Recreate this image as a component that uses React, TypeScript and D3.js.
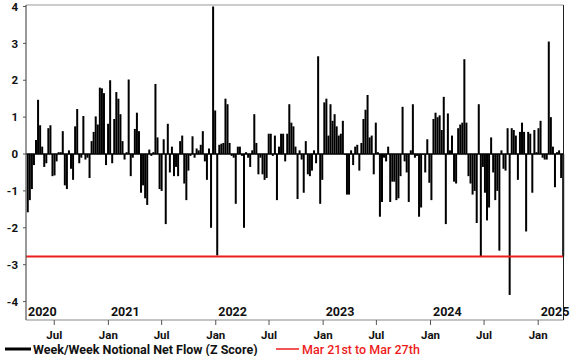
import React from "react";
import * as d3 from "d3";

// Weekly z-scores, week ending Thursday, from Apr 2 2020 to Mar 27 2025
const lastDate = new Date(2025, 2, 27);
const values: number[] = [
  -1.58, -1.25, -0.95, -0.3, 0.38, 1.47, 0.78, 0.2, -0.35, -0.25,
  0.7, 0.78, -0.6, -0.58, -0.2, 0.05, 0.05, 0.62, -0.85, -0.95,
  0.1, -0.4, -0.7, 0.75, 1.22, -0.25, -0.1, 1.03, -0.15, -0.1,
  -0.65, 0.35, 0.6, 1.02, 0.8, 1.8, 1.78, 1.65, -0.3, 0.82,
  2.0, -0.25, 0.95, 1.68, 1.5, 1.08, 0.35, -0.15, 0.05, 2.02,
  -0.6, -0.1, 0.68, 1.12, 0.62, -1.05, -0.85, -1.2, -1.38, 0.12,
  -0.05, 0.05, 1.9, 0.45, -0.95, -1.0, 0.4, -1.9, 0.82, -0.5,
  0.2, -0.6, -0.35, -0.6, 0.35, 0.5, -0.8, -1.25, -0.45, -0.05,
  0.48, -0.1, 0.15, 0.1, 0.25, 0.62, -0.2, -0.7, 0.15, -2.0,
  4.0, 1.18, -2.75, 0.25, 0.28, 0.3, 1.5, 1.35, 0.3, -0.05,
  -0.1, -1.35, 0.2, 0.2, -0.05, -2.0, 0.05, -0.1, -0.35, 0.1,
  1.08, 0.3, -0.55, -0.1, -0.55, -0.7, -0.65, 0.55, 0.55, -0.05,
  0.5, -1.25, 0.2, 0.55, 0.55, -0.2, 0.55, 1.35, 0.85, 0.75,
  0.2, -1.22, 0.1, -0.15, -1.05, 0.35, -0.55, -0.6, -0.45, 0.1,
  -0.25, 2.65, -1.35, -0.7, 1.4, 1.5, 0.5, 1.35, 0.9, 1.08,
  0.75, 0.5, 0.55, 0.9, 0.0, -1.1, -1.1, 0.1, -0.3, 0.2,
  0.25, -0.45, 0.3, 0.95, 1.2, 1.6, 0.45, 0.5, -0.55, 0.85,
  0.05, -1.7, -1.3, -0.1, -0.2, 0.2, -1.3, -0.75, -0.75, -1.25,
  -1.2, -0.6, 1.28, -0.2, -0.5, -1.3, 0.1, 1.35, -0.1, -0.05,
  -1.7, -1.45, 0.0, -0.5, 0.4, -0.78, -1.25, 0.95, 1.12, 1.0,
  1.05, 0.65, 1.55, -1.9, 1.1, 0.1, 0.5, -0.75, -0.8, 0.7,
  0.8, 0.85, 2.57, 0.85, -0.6, -0.8, -1.1, -1.0, -1.87, 1.35,
  -2.78, -0.35, -1.05, -1.8, -1.45, 0.45, -0.5, -1.25, -1.0, -2.62,
  0.1, -0.4, -0.45, 0.7, -3.82, 0.7, 0.65, 0.5, -0.7, 0.6,
  0.85, 0.6, -2.1, 0.6, 0.55, -1.05, 0.65, 0.05, 0.7, 0.9,
  -0.1, -0.15, -0.15, 3.05, 1.0, 0.2, -0.9, 0.05, 0.1, -0.65, -2.78,
];
const currentValue = -2.78;
const yTicks = [4, 3, 2, 1, 0, -1, -2, -3, -4];
const yearLabels = ["2020", "2021", "2022", "2023", "2024", "2025"];
const seriesLabel = "Week/Week Notional Net Flow (Z Score)";
const currentLabel = "Mar 21st to Mar 27th";

const W = 571;
const H = 356;
const left = 26;
const right = 563.5;
const top = 5;
const bottom = 320;

export default function App() {
  const n = values.length;
  const dates = values.map((_, i) => d3.timeDay.offset(lastDate, -7 * (n - 1 - i)));
  const x = d3.scaleTime().domain([new Date(2020, 2, 27), new Date(2025, 2, 28)]).range([left, right]);
  const y = d3.scaleLinear().domain([-4.5, 4.04]).range([bottom, top]);
  const bw = 2.0;
  const monthTicks = d3.timeMonth
    .every(6)!
    .range(new Date(2020, 0, 1), new Date(2025, 2, 28))
    .filter((d) => x(d) >= left && x(d) <= right);
  const font = "Roboto, 'Liberation Sans', Arial, sans-serif";
  return (
    <svg width={W} height={H} style={{ position: "absolute", left: 0, top: 0 }} fontFamily={font}>
      <rect x={0} y={0} width={W} height={H} fill="#fff" />
      {/* bars */}
      {values.map((v, i) => {
        const y0 = y(Math.max(0, v));
        const y1 = y(Math.min(0, v));
        return (
          <rect key={i} x={x(dates[i]) - bw / 2} y={y0} width={bw} height={Math.max(0.8, y1 - y0)} fill="#000" />
        );
      })}
      {/* zero line */}
      <line x1={left} x2={right} y1={y(0)} y2={y(0)} stroke="#000" strokeWidth={1.5} />
      {/* current level line */}
      <line x1={left} x2={right} y1={y(currentValue)} y2={y(currentValue)} stroke="#ee1c1c" strokeWidth={2} />
      {/* frame */}
      <line x1={left} x2={right} y1={top} y2={top} stroke="#9a9a9a" strokeWidth={1.2} />
      <line x1={left} x2={right} y1={bottom} y2={bottom} stroke="#8a8a8a" strokeWidth={1.2} />
      <line x1={left} x2={left} y1={top} y2={bottom} stroke="#555" strokeWidth={1.2} />
      <line x1={right} x2={right} y1={top} y2={bottom} stroke="#222" strokeWidth={1} />
      {/* y axis */}
      {yTicks.map((t) => (
        <g key={t}>
          <line x1={left - 3} x2={left} y1={y(t)} y2={y(t)} stroke="#555" strokeWidth={1} />
          <text x={18} y={y(t)} dy="0.36em" textAnchor="end" fontSize={11.5} fontWeight={700} fill="#111">
            {t < 0 ? "-" + Math.abs(t) : String(t)}
          </text>
        </g>
      ))}
      {/* x axis month ticks */}
      {monthTicks.map((d, i) => (
        <g key={i}>
          <line x1={x(d)} x2={x(d)} y1={bottom} y2={bottom + 5} stroke="#555" strokeWidth={1} />
          <text x={x(d)} y={339} textAnchor="middle" fontSize={11.5} fontWeight={700} fill="#111">
            {d.getMonth() === 0 ? "Jan" : "Jul"}
          </text>
        </g>
      ))}
      {/* year labels */}
      {yearLabels.map((yr) => {
        const jan = new Date(+yr, 0, 1);
        const px = Math.max(left + 2, x(jan) + 2.5);
        return (
          <text key={yr} x={px} y={316} fontSize={12.5} fontWeight={700} fill="#111">
            {yr}
          </text>
        );
      })}
      {/* legend */}
      <line x1={5} x2={31} y1={349} y2={349} stroke="#000" strokeWidth={3} />
      <text x={33} y={353.5} fontSize={12.5} fontWeight={700} fill="#111">
        {seriesLabel}
      </text>
      <line x1={276} x2={299} y1={349} y2={349} stroke="#ee1c1c" strokeWidth={1.5} />
      <text x={302} y={353.5} fontSize={12.5} fontWeight={500} fill="#ee1c1c">
        {currentLabel}
      </text>
    </svg>
  );
}
